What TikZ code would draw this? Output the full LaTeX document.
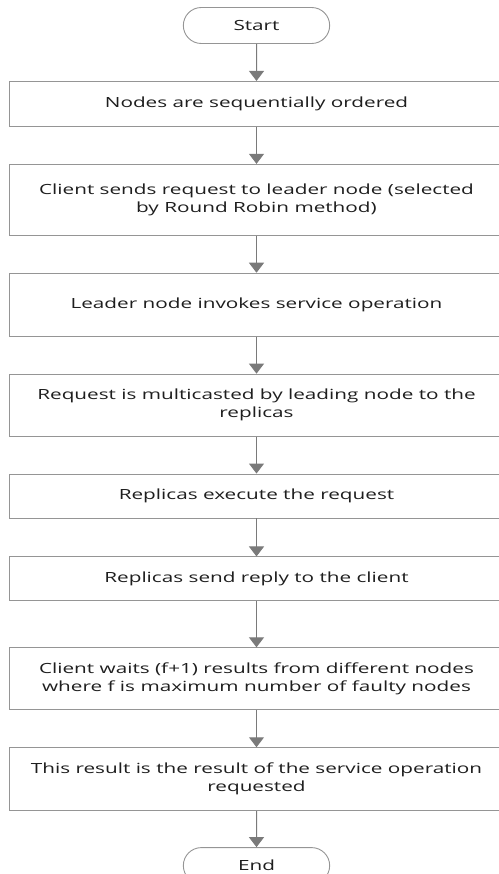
\documentclass[tikz,border=0pt]{standalone}
\usepackage{fontspec}
\setmainfont{Open Sans}[FakeStretch=1.48]
\usetikzlibrary{positioning,shapes.misc,arrows.meta}
\definecolor{linegray}{HTML}{959595}
\definecolor{arrowgray}{HTML}{7A7A7A}
\definecolor{textgray}{HTML}{1E1E1E}

\begin{document}
\begin{tikzpicture}[x=1pt,y=1pt,font=\fontsize{14}{18}\selectfont,text=textgray,
  stepbox/.style={rectangle,draw=linegray,line width=0.9pt,align=center,minimum width=494pt,inner sep=0pt},
  terminal/.style={rounded rectangle,draw=linegray,line width=0.9pt,minimum width=153pt,minimum height=36pt},
  arr/.style={draw=arrowgray,line width=1pt,-{Triangle[width=15pt,length=10pt]}}]
\useasboundingbox (0,0) rectangle (498,-874);

\node (start) [terminal] at (256.5,-25.5) {Start};

\node (order) [stepbox,below=37pt of start, minimum height=45pt] {Nodes are sequentially ordered};
\node (send) [stepbox,below=37pt of order, minimum height=71pt] {Client sends request to leader node (selected\\by Round Robin method)};
\node (invoke) [stepbox,below=37pt of send, minimum height=63pt] {Leader node invokes service operation};
\node (multi) [stepbox,below=37pt of invoke, minimum height=62pt] {Request is multicasted by leading node to the\\replicas};
\node (exec) [stepbox,below=37pt of multi, minimum height=44pt] {Replicas execute the request};
\node (reply) [stepbox,below=38pt of exec, minimum height=44pt] {Replicas send reply to the client};
\node (wait) [stepbox,below=46pt of reply, minimum height=62pt] {Client waits (f+1) results from different nodes\\where f is maximum number of faulty nodes};
\node (result) [stepbox,below=37pt of wait, minimum height=63pt] {This result is the result of the service operation\\requested};

\node (stop) [terminal,below=36pt of result] {End};

% connectors
\draw[arr] (start) -- (order);
\draw[arr] (order) -- (send);
\draw[arr] (send) -- (invoke);
\draw[arr] (invoke) -- (multi);
\draw[arr] (multi) -- (exec);
\draw[arr] (exec) -- (reply);
\draw[arr] (reply) -- (wait);
\draw[arr] (wait) -- (result);
\draw[arr] (result) -- (stop);

\end{tikzpicture}
\end{document}
